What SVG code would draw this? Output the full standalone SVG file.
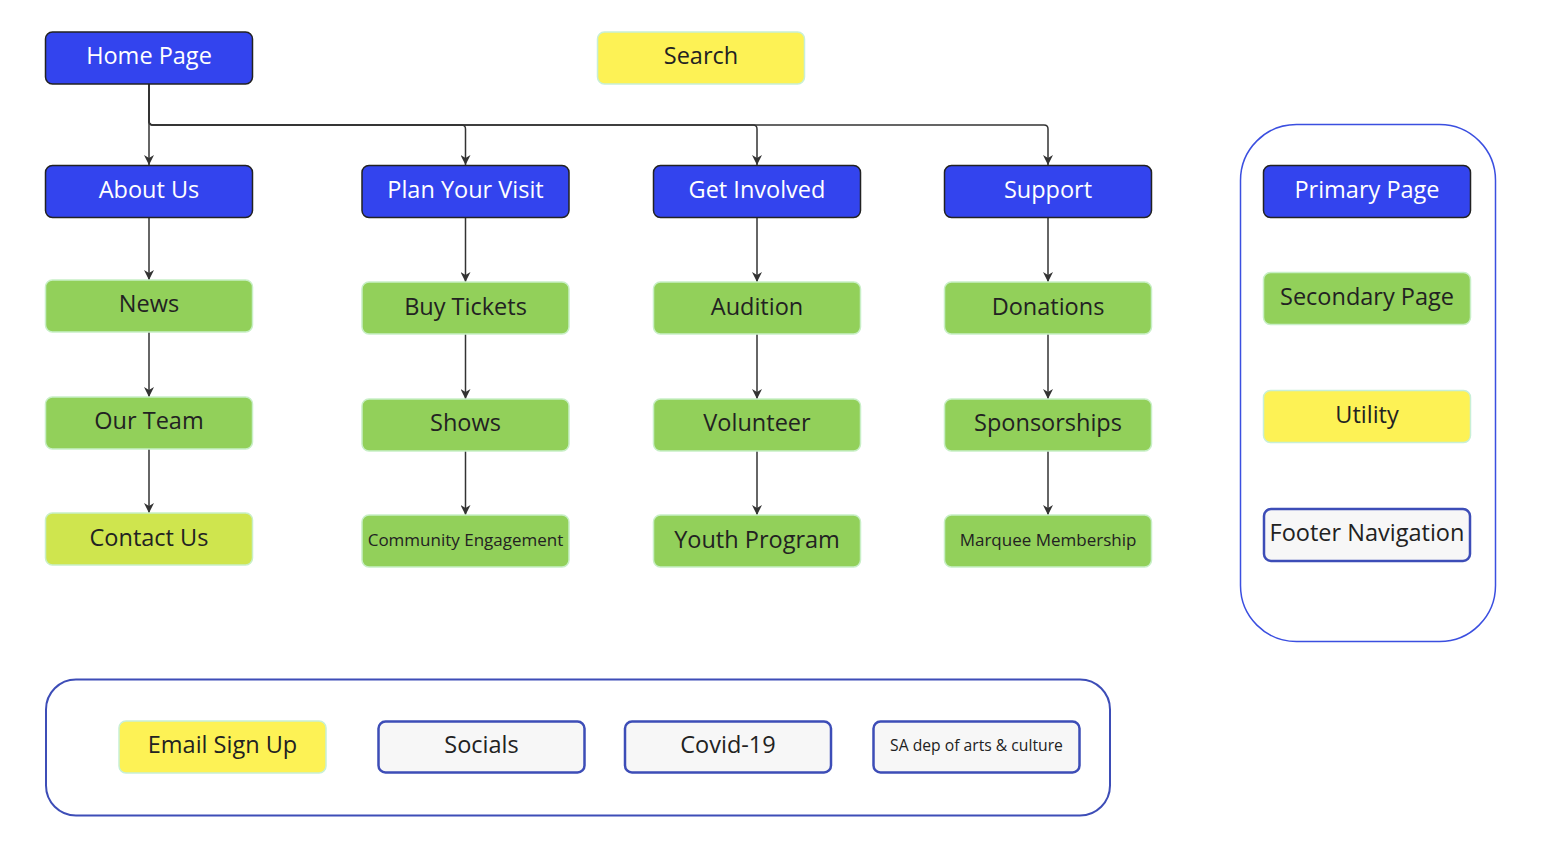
<svg xmlns="http://www.w3.org/2000/svg" width="1562" height="846" viewBox="0 0 1562 846">
<defs>
<style>
text{font-family:"Open Sans","Noto Sans","Liberation Sans",sans-serif;font-size:23.5px;text-anchor:middle;dominant-baseline:central;fill:#222}
.pri rect{fill:#3344ee;stroke:#222;stroke-width:1.5}
.pri text{fill:#fff}
.sec rect{fill:#92d05a;stroke:#c8efc6;stroke-width:1.5}
.con rect{fill:#cfe54e;stroke:#c8efc6;stroke-width:1.5}
.uti rect{fill:#fdf255;stroke:#c8efd6;stroke-width:1.5}
.foot rect{fill:#f7f7f7;stroke:#3d4db7;stroke-width:2.5}
.cont{fill:none;stroke-width:1.5}
#connectors path{fill:none;stroke:#333;stroke-width:1.5;marker-end:url(#arr)}
</style>
<marker id="arr" markerUnits="userSpaceOnUse" markerWidth="10" markerHeight="10" refX="10" refY="5" orient="auto" viewBox="0 0 10 10">
<path d="M0,0 L10,5 L0,10 L3,5 Z" fill="#333"/>
</marker>
</defs>
<rect width="1562" height="846" fill="#fff"/>

<rect id="legend-box" class="cont" x="1240.5" y="124.5" width="255" height="517" rx="56" stroke="#3b4fe0"/>
<rect id="footer-box" class="cont" x="46" y="679.5" width="1064" height="136" rx="30" stroke="#3d4db7" style="stroke-width:2"/>

<g id="connectors">
<path d="M149 84 V165"/>
<path d="M149 84 V121 Q149 125 153 125 H461.5 Q465.5 125 465.5 129 V165"/>
<path d="M149 84 V121 Q149 125 153 125 H753 Q757 125 757 129 V165"/>
<path d="M149 84 V121 Q149 125 153 125 H1044 Q1048 125 1048 129 V165"/>
<path d="M149 218 V280"/>
<path d="M149 332 V397"/>
<path d="M149 449 V513"/>
<path d="M465.5 218 V282"/>
<path d="M465.5 334 V399"/>
<path d="M465.5 451 V515"/>
<path d="M757 218 V282"/>
<path d="M757 334 V399"/>
<path d="M757 451 V515"/>
<path d="M1048 218 V282"/>
<path d="M1048 334 V399"/>
<path d="M1048 451 V515"/>
</g>

<g id="home" class="pri"><rect x="45.5" y="32" width="207" height="52" rx="7"/><text x="149" y="55">Home Page</text></g>
<g id="search" class="uti"><rect x="597.5" y="32" width="207" height="52" rx="7"/><text x="701" y="55">Search</text></g>

<g id="about" class="pri"><rect x="45.5" y="165.5" width="207" height="52" rx="7"/><text x="149" y="189">About Us</text></g>
<g id="plan" class="pri"><rect x="362" y="165.5" width="207" height="52" rx="7"/><text x="465.5" y="189">Plan Your Visit</text></g>
<g id="involved" class="pri"><rect x="653.5" y="165.5" width="207" height="52" rx="7"/><text x="757" y="189">Get Involved</text></g>
<g id="support" class="pri"><rect x="944.5" y="165.5" width="207" height="52" rx="7"/><text x="1048" y="189">Support</text></g>

<g id="news" class="sec"><rect x="45.5" y="280" width="207" height="52" rx="7"/><text x="149" y="303">News</text></g>
<g id="ourteam" class="sec"><rect x="45.5" y="397" width="207" height="52" rx="7"/><text x="149" y="420">Our Team</text></g>
<g id="contact" class="con"><rect x="45.5" y="513" width="207" height="52" rx="7"/><text x="149" y="537">Contact Us</text></g>

<g id="tickets" class="sec"><rect x="362" y="282" width="207" height="52" rx="7"/><text x="465.5" y="306">Buy Tickets</text></g>
<g id="shows" class="sec"><rect x="362" y="399" width="207" height="52" rx="7"/><text x="465.5" y="422">Shows</text></g>
<g id="community" class="sec"><rect x="362" y="515" width="207" height="52" rx="7"/><text x="465.5" y="539" style="font-size:17px">Community Engagement</text></g>

<g id="audition" class="sec"><rect x="653.5" y="282" width="207" height="52" rx="7"/><text x="757" y="306">Audition</text></g>
<g id="volunteer" class="sec"><rect x="653.5" y="399" width="207" height="52" rx="7"/><text x="757" y="422">Volunteer</text></g>
<g id="youth" class="sec"><rect x="653.5" y="515" width="207" height="52" rx="7"/><text x="757" y="539">Youth Program</text></g>

<g id="donations" class="sec"><rect x="944.5" y="282" width="207" height="52" rx="7"/><text x="1048" y="306">Donations</text></g>
<g id="sponsorships" class="sec"><rect x="944.5" y="399" width="207" height="52" rx="7"/><text x="1048" y="422">Sponsorships</text></g>
<g id="marquee" class="sec"><rect x="944.5" y="515" width="207" height="52" rx="7"/><text x="1048" y="539" style="font-size:17px">Marquee Membership</text></g>

<g id="leg-primary" class="pri"><rect x="1263.5" y="165.5" width="207" height="52" rx="7"/><text x="1367" y="189">Primary Page</text></g>
<g id="leg-secondary" class="sec"><rect x="1263.5" y="272.5" width="207" height="52" rx="7"/><text x="1367" y="296">Secondary Page</text></g>
<g id="leg-utility" class="uti"><rect x="1263.5" y="390.5" width="207" height="52" rx="7"/><text x="1367" y="414">Utility</text></g>
<g id="leg-footer" class="foot"><rect x="1264" y="509" width="206" height="52" rx="7"/><text x="1367" y="532">Footer Navigation</text></g>

<g id="email" class="uti"><rect x="119" y="721" width="207" height="52" rx="7"/><text x="222.5" y="744">Email Sign Up</text></g>
<g id="socials" class="foot"><rect x="378.5" y="721.5" width="206" height="51" rx="7"/><text x="481.5" y="744">Socials</text></g>
<g id="covid" class="foot"><rect x="625" y="721.5" width="206" height="51" rx="7"/><text x="728" y="744">Covid-19</text></g>
<g id="sadep" class="foot"><rect x="873.5" y="721.5" width="206" height="51" rx="7"/><text x="976.5" y="745" style="font-size:15.7px">SA dep of arts &amp; culture</text></g>
</svg>
